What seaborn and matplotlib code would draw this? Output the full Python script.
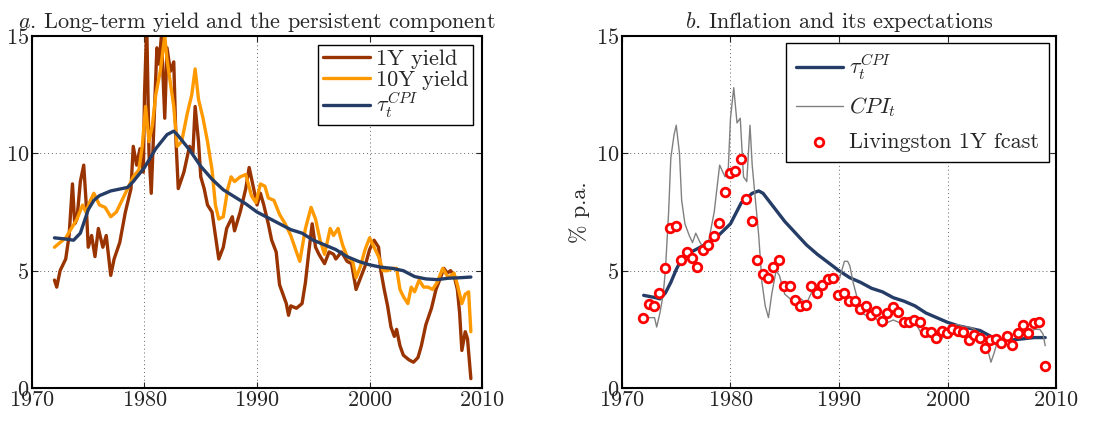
import matplotlib
matplotlib.use("Agg")
import matplotlib.pyplot as plt
import numpy as np
import pandas as pd
import seaborn as sns

# ---- panel a: yields and persistent component ----
y1_year = [1972.0, 1972.2, 1972.5, 1973.0, 1973.3, 1973.6, 1973.8, 1974.0, 1974.3, 1974.6,
           1974.8, 1975.0, 1975.3, 1975.6, 1975.9, 1976.3, 1976.6, 1977.0, 1977.3, 1977.8,
           1978.3, 1978.8, 1979.0, 1979.3, 1979.6, 1979.9, 1980.0, 1980.2, 1980.4, 1980.6,
           1980.9, 1981.1, 1981.3, 1981.5, 1981.8, 1982.0, 1982.3, 1982.6, 1982.8, 1983.0,
           1983.5, 1984.0, 1984.3, 1984.5, 1984.8, 1985.0, 1985.3, 1985.6, 1986.0, 1986.3,
           1986.6, 1987.0, 1987.3, 1987.8, 1988.0, 1988.5, 1989.0, 1989.3, 1989.7, 1990.0,
           1990.3, 1990.6, 1991.0, 1991.3, 1991.7, 1992.0, 1992.3, 1992.6, 1992.8, 1993.0,
           1993.5, 1994.0, 1994.3, 1994.6, 1994.9, 1995.2, 1995.5, 1996.0, 1996.4, 1996.8,
           1997.0, 1997.5, 1998.0, 1998.4, 1998.8, 1999.2, 1999.6, 2000.0, 2000.4, 2000.8,
           2001.0, 2001.3, 2001.6, 2001.9, 2002.2, 2002.4, 2002.7, 2003.0, 2003.5, 2003.9,
           2004.3, 2004.6, 2005.0, 2005.5, 2005.9, 2006.3, 2006.6, 2006.9, 2007.2, 2007.5,
           2007.8, 2008.0, 2008.2, 2008.5, 2008.7, 2009.0]
y1_val = [4.6, 4.3, 5.0, 5.5, 6.5, 8.7, 7.0, 7.2, 8.8, 9.5,
          8.0, 6.0, 6.5, 5.6, 6.8, 6.0, 6.5, 4.8, 5.5, 6.2,
          7.5, 8.5, 10.3, 9.5, 10.2, 9.2, 12.5, 15.5, 10.0, 8.3,
          12.0, 14.5, 13.8, 15.0, 11.5, 14.5, 13.5, 13.9, 10.5, 8.5,
          9.2, 10.3, 10.0, 12.0, 10.5, 9.0, 8.5, 7.8, 7.5, 6.5,
          5.5, 6.0, 6.8, 7.3, 6.7, 7.5, 8.5, 9.4, 8.5, 7.8,
          8.3, 7.8, 7.0, 6.3, 5.8, 4.4, 4.0, 3.6, 3.1, 3.5,
          3.4, 3.6, 4.5, 5.8, 7.0, 6.0, 5.7, 5.3, 5.8, 5.7,
          5.5, 5.8, 5.4, 5.3, 4.2, 4.7, 5.2, 5.9, 6.3, 6.0,
          5.0, 4.2, 3.5, 2.6, 2.2, 2.5, 1.8, 1.4, 1.2, 1.1,
          1.3, 1.8, 2.7, 3.4, 4.2, 4.7, 5.1, 4.9, 5.0, 4.8,
          4.2, 3.2, 1.6, 2.4, 2.1, 0.4]

y10_year = [1972.0, 1972.5, 1973.0, 1973.5, 1974.0, 1974.5, 1974.8, 1975.2, 1975.5, 1976.0,
            1976.5, 1977.0, 1977.5, 1978.0, 1978.5, 1979.0, 1979.5, 1979.8, 1980.1, 1980.4,
            1980.7, 1981.0, 1981.4, 1981.8, 1982.0, 1982.3, 1982.6, 1982.9, 1983.3, 1983.8,
            1984.2, 1984.5, 1984.8, 1985.2, 1985.6, 1986.0, 1986.3, 1986.6, 1987.0, 1987.4,
            1987.7, 1988.0, 1988.5, 1989.0, 1989.5, 1989.9, 1990.3, 1990.7, 1991.0, 1991.5,
            1992.0, 1992.5, 1993.0, 1993.5, 1993.8, 1994.3, 1994.8, 1995.2, 1995.6, 1996.0,
            1996.5, 1996.8, 1997.2, 1997.6, 1998.0, 1998.5, 1998.8, 1999.2, 1999.6, 2000.0,
            2000.4, 2000.8, 2001.2, 2001.6, 2002.0, 2002.4, 2002.7, 2003.0, 2003.4, 2003.7,
            2004.0, 2004.4, 2004.8, 2005.2, 2005.6, 2006.0, 2006.5, 2007.0, 2007.5, 2007.8,
            2008.2, 2008.5, 2008.8, 2009.0]
y10_val = [6.0, 6.2, 6.4, 6.8, 7.2, 7.8, 7.5, 8.0, 8.3, 7.8,
           7.7, 7.3, 7.5, 8.0, 8.5, 9.0, 9.3, 10.3, 12.0, 10.5,
           11.2, 12.5, 13.5, 15.0, 14.0, 13.0, 12.0, 10.3, 10.5, 11.7,
           12.5, 13.6, 12.3, 11.5, 10.5, 9.3, 7.8, 7.2, 7.3, 8.5,
           9.0, 8.8, 9.0, 9.1, 8.2, 7.9, 8.7, 8.6, 8.1, 8.0,
           7.4, 7.0, 6.5, 5.8, 5.4, 6.8, 7.7, 7.2, 6.3, 5.7,
           6.8, 6.5, 6.8, 6.1, 5.6, 5.4, 4.7, 5.2, 5.9, 6.4,
           6.0, 5.6, 5.0, 5.0, 5.1, 5.1, 4.2, 3.9, 3.6, 4.3,
           4.1, 4.6, 4.3, 4.3, 4.2, 4.5, 5.1, 4.7, 4.9, 4.4,
           3.6, 4.0, 4.1, 2.4]

tau_a_year = [1972, 1973, 1973.7, 1974.3, 1975, 1975.5, 1976, 1977, 1978, 1978.5,
              1979, 1980, 1981, 1982, 1982.6, 1983, 1984, 1985, 1986, 1987,
              1988, 1989, 1990, 1991, 1992, 1993, 1994, 1995, 1996, 1997,
              1998, 1999, 2000, 2001, 2002, 2003, 2004, 2005, 2006, 2007,
              2008, 2009]
tau_a_val = [6.4, 6.35, 6.3, 6.6, 7.6, 8.0, 8.2, 8.4, 8.5, 8.55,
             8.8, 9.4, 10.2, 10.8, 10.95, 10.75, 10.15, 9.45, 8.9, 8.45,
             8.15, 7.85, 7.5, 7.25, 7.0, 6.75, 6.6, 6.3, 6.1, 5.9,
             5.6, 5.4, 5.25, 5.15, 5.1, 5.0, 4.75, 4.65, 4.62, 4.68,
             4.7, 4.73]

# ---- panel b: inflation and expectations ----
tau_b_year = [1972, 1973, 1973.5, 1974, 1974.5, 1975, 1975.5, 1976, 1977, 1978,
              1979, 1980, 1981, 1982, 1982.6, 1983, 1984, 1985, 1986, 1987,
              1988, 1989, 1990, 1991, 1992, 1993, 1994, 1995, 1996, 1997,
              1998, 1999, 2000, 2001, 2002, 2003, 2004, 2005, 2006, 2007,
              2008, 2009]
tau_b_val = [3.95, 3.86, 3.8, 4.05, 4.5, 5.05, 5.5, 5.7, 5.95, 6.2,
             6.55, 7.0, 7.9, 8.3, 8.4, 8.3, 7.7, 7.1, 6.6, 6.1,
             5.7, 5.35, 5.0, 4.7, 4.5, 4.25, 4.1, 3.85, 3.7, 3.5,
             3.2, 3.0, 2.8, 2.65, 2.55, 2.45, 2.2, 2.05, 2.05, 2.1,
             2.15, 2.15]

cpi_year = [1972.5, 1973.0, 1973.2, 1973.5, 1973.8, 1974.0, 1974.3, 1974.5, 1974.8, 1975.0,
            1975.3, 1975.5, 1975.8, 1976.2, 1976.5, 1976.8, 1977.2, 1977.5, 1978.0, 1978.5,
            1979.0, 1979.5, 1979.8, 1980.0, 1980.3, 1980.6, 1980.9, 1981.2, 1981.5, 1981.8,
            1982.0, 1982.3, 1982.6, 1982.9, 1983.2, 1983.5, 1983.8, 1984.2, 1984.5, 1985.0,
            1985.5, 1986.0, 1986.5, 1987.0, 1987.5, 1988.0, 1988.5, 1989.0, 1989.5, 1990.0,
            1990.5, 1990.8, 1991.0, 1991.3, 1991.7, 1992.0, 1992.5, 1993.0, 1993.5, 1994.0,
            1994.5, 1995.0, 1995.5, 1996.0, 1996.5, 1997.0, 1997.5, 1998.0, 1998.5, 1999.0,
            1999.5, 2000.0, 2000.5, 2001.0, 2001.5, 2002.0, 2002.5, 2003.0, 2003.5, 2004.0,
            2004.3, 2004.6, 2005.0, 2005.5, 2006.0, 2006.5, 2007.0, 2007.5, 2008.0, 2008.5,
            2008.8, 2009.0]
cpi_val = [3.0, 3.0, 2.6, 3.2, 4.0, 5.0, 7.5, 9.8, 10.8, 11.2,
           10.0, 8.0, 7.0, 6.5, 6.2, 6.6, 6.2, 6.0, 6.3, 7.5,
           9.5, 9.0, 9.4, 11.5, 12.8, 11.3, 11.5, 9.0, 8.8, 11.2,
           9.5, 8.0, 6.5, 4.5, 3.5, 3.0, 4.0, 5.0, 4.8, 4.0,
           3.8, 3.6, 3.8, 3.6, 4.1, 4.3, 4.2, 4.6, 4.8, 4.6,
           5.4, 5.4, 5.2, 4.5, 3.8, 3.2, 3.1, 3.2, 2.9, 2.6,
           2.8, 2.9, 2.8, 2.8, 2.7, 2.8, 2.4, 2.2, 2.2, 2.2,
           2.1, 2.5, 2.7, 2.7, 2.6, 2.6, 2.5, 2.3, 2.0, 1.1,
           1.5, 2.0, 2.1, 2.2, 2.3, 2.3, 2.3, 2.3, 2.5, 2.5,
           2.3, 1.8]

liv_year = np.arange(1971.95, 2009.0, 0.5)
liv_val = [3.0, 3.6, 3.5, 4.05, 5.1, 6.8, 6.9, 5.45, 5.8, 5.55,
           5.15, 5.9, 6.1, 6.5, 7.05, 8.35, 9.15, 9.25, 9.75, 8.05,
           7.1, 5.45, 4.85, 4.7, 5.15, 5.45, 4.35, 4.35, 3.75, 3.5,
           3.55, 4.35, 4.05, 4.4, 4.65, 4.7, 3.95, 4.05, 3.7, 3.7,
           3.35, 3.5, 3.1, 3.3, 2.85, 3.2, 3.45, 3.25, 2.8, 2.8,
           2.9, 2.8, 2.4, 2.37, 2.15, 2.45, 2.35, 2.5, 2.45, 2.4,
           2.05, 2.25, 2.15, 1.7, 2.05, 2.1, 1.9, 2.2, 1.85, 2.35,
           2.7, 2.35, 2.75, 2.8, 0.92]

BROWN = "#993300"
ORANGE = "#ff9900"
NAVY = "#253d66"

sns.set_style("ticks")
plt.rcParams["font.family"] = ["cmr10", "DejaVu Serif"]
plt.rcParams["mathtext.fontset"] = "cm"
plt.rcParams["axes.formatter.use_mathtext"] = True
plt.rcParams["axes.unicode_minus"] = False

fig = plt.figure(figsize=(11.02, 4.23), dpi=100)
ax1 = fig.add_axes([0.029, 0.0827, 0.4085, 0.832])
ax2 = fig.add_axes([0.5644, 0.0827, 0.3939, 0.832])

sns.lineplot(x=y1_year, y=y1_val, ax=ax1, color=BROWN, lw=2.4, label="1Y yield")
sns.lineplot(x=y10_year, y=y10_val, ax=ax1, color=ORANGE, lw=2.4, label="10Y yield")
sns.lineplot(x=tau_a_year, y=tau_a_val, ax=ax1, color=NAVY, lw=2.4,
             label=r"$\tau_t^{CPI}$")

sns.lineplot(x=tau_b_year, y=tau_b_val, ax=ax2, color=NAVY, lw=2.4,
             label=r"$\tau_t^{CPI}$")
sns.lineplot(x=cpi_year, y=cpi_val, ax=ax2, color="#808080", lw=1.0,
             label=r"$CPI_t$")
sns.scatterplot(x=liv_year, y=liv_val, ax=ax2, marker="o", s=38,
                facecolor="white", edgecolor="#ff0000", linewidth=2.0,
                label="Livingston 1Y fcast", zorder=5)

titles = [r"$a$. Long-term yield and the persistent component",
          r"$b$. Inflation and its expectations"]
for ax, title in zip([ax1, ax2], titles):
    ax.set_xlim(1970, 2010)
    ax.set_ylim(0, 15)
    ax.set_xticks([1970, 1980, 1990, 2000, 2010])
    ax.set_yticks([0, 5, 10, 15])
    ax.grid(True, color="#666666", linestyle=(0, (1, 3)), linewidth=0.7)
    ax.tick_params(direction="in", length=4, width=0.8, labelsize=16, pad=2,
                   top=True, right=True)
    for s in ax.spines.values():
        s.set_linewidth(1.5)
        s.set_color("black")
    ax.set_title(title, fontsize=16, pad=6)
    ax.set_xlabel("")

ax2.set_ylabel(r"% p.a.", fontsize=16, labelpad=4)

leg1 = ax1.legend(loc="upper right", fontsize=16, frameon=True, fancybox=False,
                  edgecolor="black", framealpha=1, handlelength=2.1,
                  borderpad=0.2, labelspacing=0.05, handletextpad=0.3,
                  borderaxespad=0.4)
leg2 = ax2.legend(loc="upper right", fontsize=16, frameon=True, fancybox=False,
                  edgecolor="black", framealpha=1, handlelength=2.1,
                  borderpad=0.45, labelspacing=0.6, handletextpad=0.3,
                  borderaxespad=0.3)
for leg in (leg1, leg2):
    leg.get_frame().set_linewidth(1.0)

fig.savefig("out.png", dpi=100)
